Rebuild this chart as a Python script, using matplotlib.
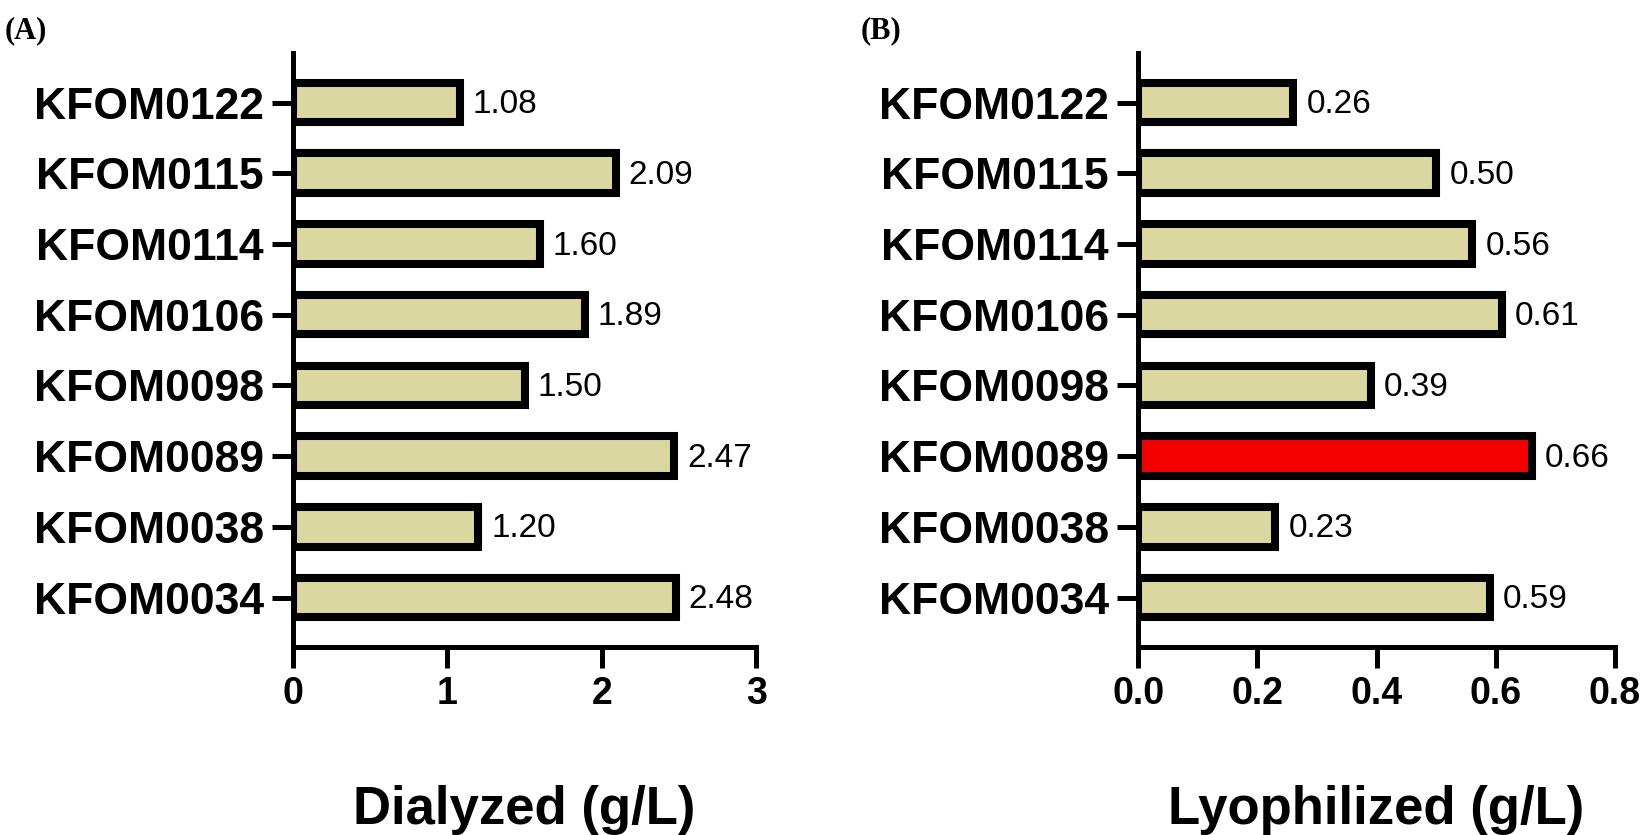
import matplotlib.pyplot as plt

# strains, top to bottom as in the figure
strains = ["KFOM0122", "KFOM0115", "KFOM0114", "KFOM0106",
           "KFOM0098", "KFOM0089", "KFOM0038", "KFOM0034"]
dialyzed = [1.08, 2.09, 1.60, 1.89, 1.50, 2.47, 1.20, 2.48]
lyophilized = [0.26, 0.50, 0.56, 0.61, 0.39, 0.66, 0.23, 0.59]
highlight = "KFOM0089"

dial_ticks = [0, 1, 2, 3]
lyo_ticks = [0.0, 0.2, 0.4, 0.6, 0.8]

plt.rcParams['font.family'] = ['Liberation Sans', 'DejaVu Sans']

fig = plt.figure(figsize=(16.52, 8.35), dpi=100)
ax1 = fig.add_axes([0.1774, 0.2251, 0.2803, 0.7114])
ax2 = fig.add_axes([0.6889, 0.2251, 0.2887, 0.7114])

khaki = "#DAD7A0"


def draw(ax, vals, ticks, labels, xlabel, xmax, red=False):
    ypos = list(range(len(strains)))[::-1]
    colors = ["#F20000" if (s == highlight and red) else khaki for s in strains]
    ax.barh(ypos, vals, height=0.56, color=colors, edgecolor="black", linewidth=5.8)
    for y, v in zip(ypos, vals):
        ax.text(v + xmax * 0.028, y - 0.03, "%.2f" % v, va="center", ha="left", fontsize=24)
    ax.set_yticks(ypos)
    ax.set_yticklabels(strains, fontsize=32, fontweight="bold")
    ax.set_xticks(ticks)
    ax.set_xticklabels(labels, fontsize=27, fontweight="bold")
    ax.set_xlim(0, xmax)
    ax.set_ylim(-0.7, 7.7)
    for s in ["top", "right"]:
        ax.spines[s].set_visible(False)
    for s in ["left", "bottom"]:
        ax.spines[s].set_linewidth(3.6)
    ax.tick_params(axis="both", length=15, width=3.6, pad=6)
    ax.set_xlabel(xlabel, fontsize=38, fontweight="bold")
    ax.xaxis.set_label_coords(0.5, -0.232)


draw(ax1, dialyzed, dial_ticks, ["0", "1", "2", "3"], "Dialyzed (g/L)", 3)
draw(ax2, lyophilized, lyo_ticks, ["%.1f" % t for t in lyo_ticks], "Lyophilized (g/L)", 0.8, red=True)

fig.text(0.003, 0.98, "(A)", family="Liberation Serif", fontweight="bold", fontsize=22, va="top")
fig.text(0.521, 0.98, "(B)", family="Liberation Serif", fontweight="bold", fontsize=22, va="top")

fig.savefig("out.png", dpi=100)
